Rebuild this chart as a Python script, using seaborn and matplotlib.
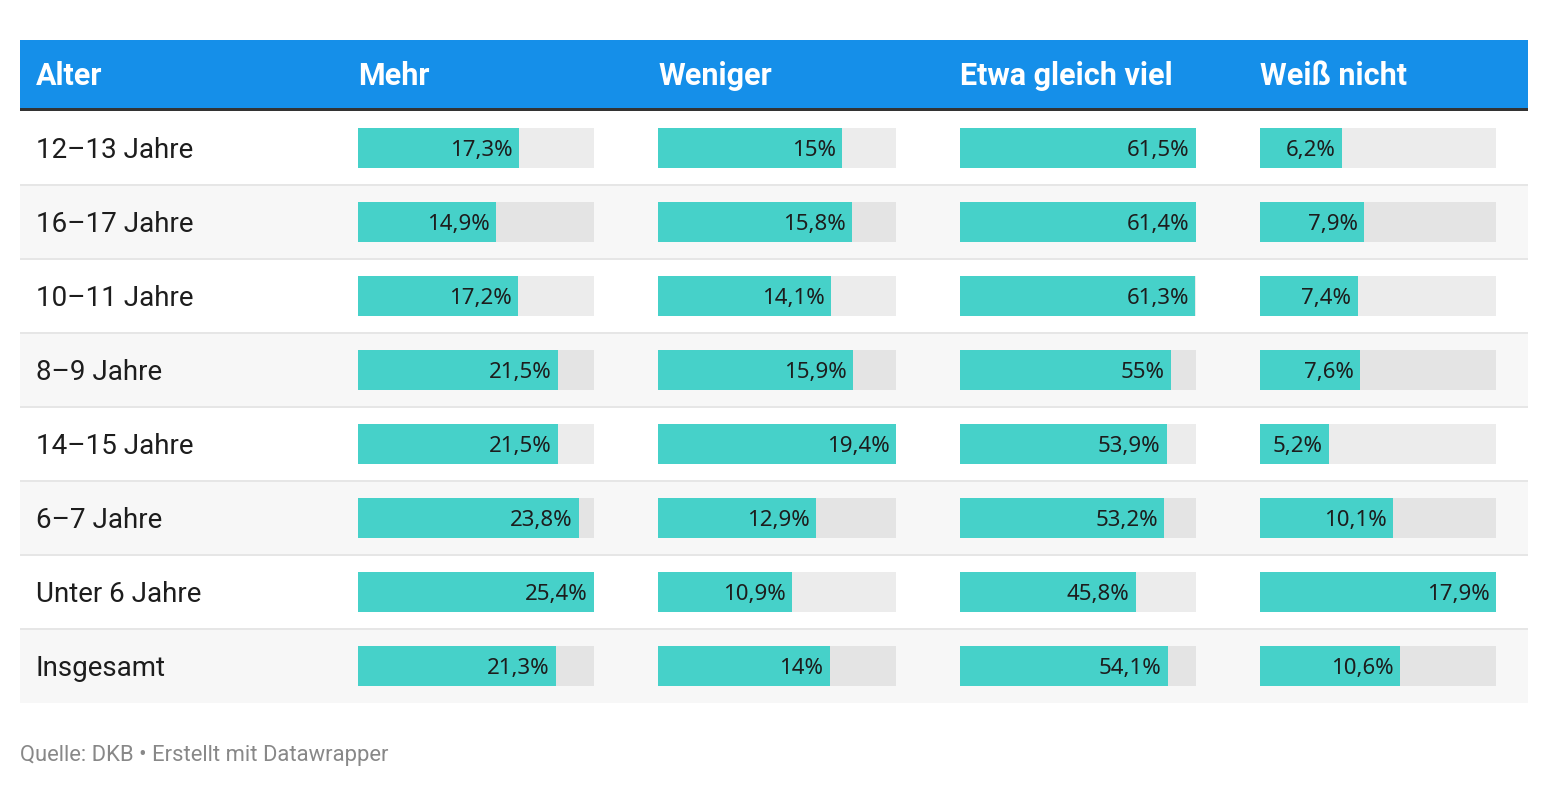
import matplotlib
matplotlib.use("Agg")
import matplotlib.pyplot as plt
import seaborn as sns
from matplotlib.patches import Rectangle

# data
ages = ["12–13 Jahre", "16–17 Jahre", "10–11 Jahre", "8–9 Jahre",
        "14–15 Jahre", "6–7 Jahre", "Unter 6 Jahre", "Insgesamt"]
columns = ["Mehr", "Weniger", "Etwa gleich viel", "Weiß nicht"]
mehr = [17.3, 14.9, 17.2, 21.5, 21.5, 23.8, 25.4, 21.3]
weniger = [15, 15.8, 14.1, 15.9, 19.4, 12.9, 10.9, 14]
etwa_gleich = [61.5, 61.4, 61.3, 55, 53.9, 53.2, 45.8, 54.1]
weiss_nicht = [6.2, 7.9, 7.4, 7.6, 5.2, 10.1, 17.9, 10.6]
series = [mehr, weniger, etwa_gleich, weiss_nicht]
source = "Quelle: DKB • Erstellt mit Datawrapper"

W, H = 1548, 788
BLUE = "#158fe9"
TEAL = "#46d1c9"

sns.set_style("white")
plt.rcParams["font.family"] = ["Roboto", "DejaVu Sans"]

fig = plt.figure(figsize=(W / 100, H / 100), dpi=100)
fig.patch.set_facecolor("white")

# background layer in pixel units
bg = fig.add_axes([0, 0, 1, 1])
bg.set_xlim(0, W)
bg.set_ylim(H, 0)
bg.axis("off")

left, right = 20, 1528
head_top, head_bot = 40, 108
body_top, row_h = 111, 74
col_x = [358, 658, 960, 1260]
col_w = [236, 238, 236, 236]

bg.add_patch(Rectangle((left, head_top), right - left, head_bot - head_top, color=BLUE, lw=0))
bg.add_patch(Rectangle((left, head_bot), right - left, 3, color="#333333", lw=0))
bg.text(36, (head_top + head_bot) / 2 + 2, "Alter", color="white", fontsize=22,
        fontweight="bold", va="center", ha="left")
for name, x in zip(columns, col_x):
    bg.text(x, (head_top + head_bot) / 2 + 2, name, color="white", fontsize=22,
            fontweight="bold", va="center", ha="left")

n = len(ages)
for i, age in enumerate(ages):
    y0 = body_top + i * row_h
    if i % 2 == 1:
        bg.add_patch(Rectangle((left, y0), right - left, row_h, color="#f7f7f7", lw=0))
    if i > 0:
        bg.add_patch(Rectangle((left, y0 - 1), right - left, 2, color="#e6e6e6", lw=0))
    bg.text(36, y0 + row_h / 2 + 2, age, color="#1d1d1d", fontsize=20, va="center", ha="left")

bg.text(20, 756, source, color="#888888", fontsize=15.8, va="center", ha="left")

# bar columns
body_bottom = body_top + n * row_h
for vals, x, w in zip(series, col_x, col_w):
    ax = fig.add_axes([x / W, 1 - body_bottom / H, w / W, n * row_h / H])
    vmax = max(vals)
    sns.barplot(x=[vmax] * n, y=ages, orient="h", color="black", alpha=0.075,
                saturation=1, width=40 / row_h, linewidth=0, ax=ax)
    sns.barplot(x=vals, y=ages, orient="h", color=TEAL, saturation=1,
                width=40 / row_h, linewidth=0, ax=ax)
    ax.set_xlim(0, vmax)
    ax.set_ylim(n - 0.5, -0.5)
    ax.axis("off")
    ax.patch.set_visible(False)
    for i, v in enumerate(vals):
        lab = f"{v:g}".replace(".", ",") + "%"
        ax.annotate(lab, (v, i), xytext=(-4.5, -1.5), textcoords="offset points",
                    ha="right", va="center", fontsize=16, color="#1d1d1d",
                    family=["Noto Sans", "DejaVu Sans"])

fig.savefig("out.png", dpi=100, facecolor="white")
